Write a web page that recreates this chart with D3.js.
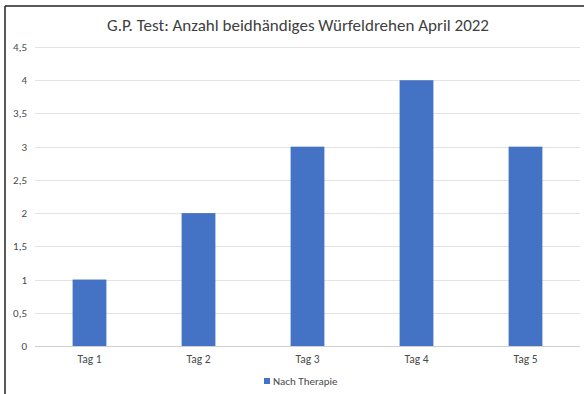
<!DOCTYPE html>
<html><head><meta charset="utf-8">
<script src="https://cdn.jsdelivr.net/npm/d3@7"></script>
<style>body{margin:0;background:#fff;}svg{display:block;}</style>
</head><body>
<script>
const categories = ["Tag 1","Tag 2","Tag 3","Tag 4","Tag 5"];
const values = [1,2,3,4,3];
const yTicks = [0,0.5,1,1.5,2,2.5,3,3.5,4,4.5];
const seriesName = "Nach Therapie";
const title = "G.P. Test: Anzahl beidhändiges Würfeldrehen April 2022";

const W=584,H=394;
const svg=d3.select("body").append("svg").attr("width",W).attr("height",H);
svg.append("rect").attr("width",W).attr("height",H).attr("fill","#fff");
// frame (top and left visible)
svg.append("line").attr("x1",5).attr("x2",W).attr("y1",6).attr("y2",6).attr("stroke","#222").attr("stroke-width",1.5);
svg.append("line").attr("x1",5).attr("x2",5).attr("y1",6).attr("y2",H).attr("stroke","#222").attr("stroke-width",1.5);

const font="Carlito, Calibri, 'Open Sans', 'Liberation Sans', sans-serif";
const x=d3.scaleBand().domain(categories).range([35,580]).padding(0);
const y=d3.scaleLinear().domain([0,4.5]).range([346,47]);
const fmt=d=>String(d).replace(".",",");

// gridlines
svg.append("g").selectAll("line").data(yTicks).join("line")
  .attr("x1",35).attr("x2",580).attr("y1",d=>Math.round(y(d))+0.5).attr("y2",d=>Math.round(y(d))+0.5)
  .attr("stroke",d=>d===0?"#d0d0d0":"#e3e3e3").attr("stroke-width",1);

// y axis labels
const yAxis=d3.axisLeft(y).tickValues(yTicks).tickFormat(fmt).tickSize(0).tickPadding(0);
const gy=svg.append("g").attr("transform","translate(27,0)").call(yAxis);
gy.select(".domain").remove();
gy.selectAll("text").attr("font-family",font).attr("font-size",11).attr("fill","#4a4a4a");

// bars
const bw=x.bandwidth()*0.31;
svg.append("g").selectAll("rect").data(values).join("rect")
  .attr("x",(d,i)=>x(categories[i])+x.bandwidth()/2-bw/2)
  .attr("width",bw)
  .attr("y",d=>y(d)).attr("height",d=>y(0)-y(d))
  .attr("fill","#4472C4");

// x axis labels
const xAxis=d3.axisBottom(x).tickSize(0).tickPadding(0);
const gx=svg.append("g").attr("transform","translate(0,355)").call(xAxis);
gx.select(".domain").remove();
gx.selectAll("text").attr("font-family",font).attr("font-size",11.5).attr("fill","#4a4a4a").attr("dy","0.71em");

// title
svg.append("text").attr("x",298).attr("y",31).attr("text-anchor","middle")
  .attr("font-family",font).attr("font-size",17).attr("fill","#404040")
  .attr("textLength",382).attr("lengthAdjust","spacingAndGlyphs").text(title);

// legend
svg.append("rect").attr("x",264).attr("y",378).attr("width",6).attr("height",6).attr("fill","#4472C4");
svg.append("text").attr("x",273).attr("y",385).attr("font-family",font).attr("font-size",11).attr("fill","#4a4a4a").text(seriesName);
</script>
</body></html>
